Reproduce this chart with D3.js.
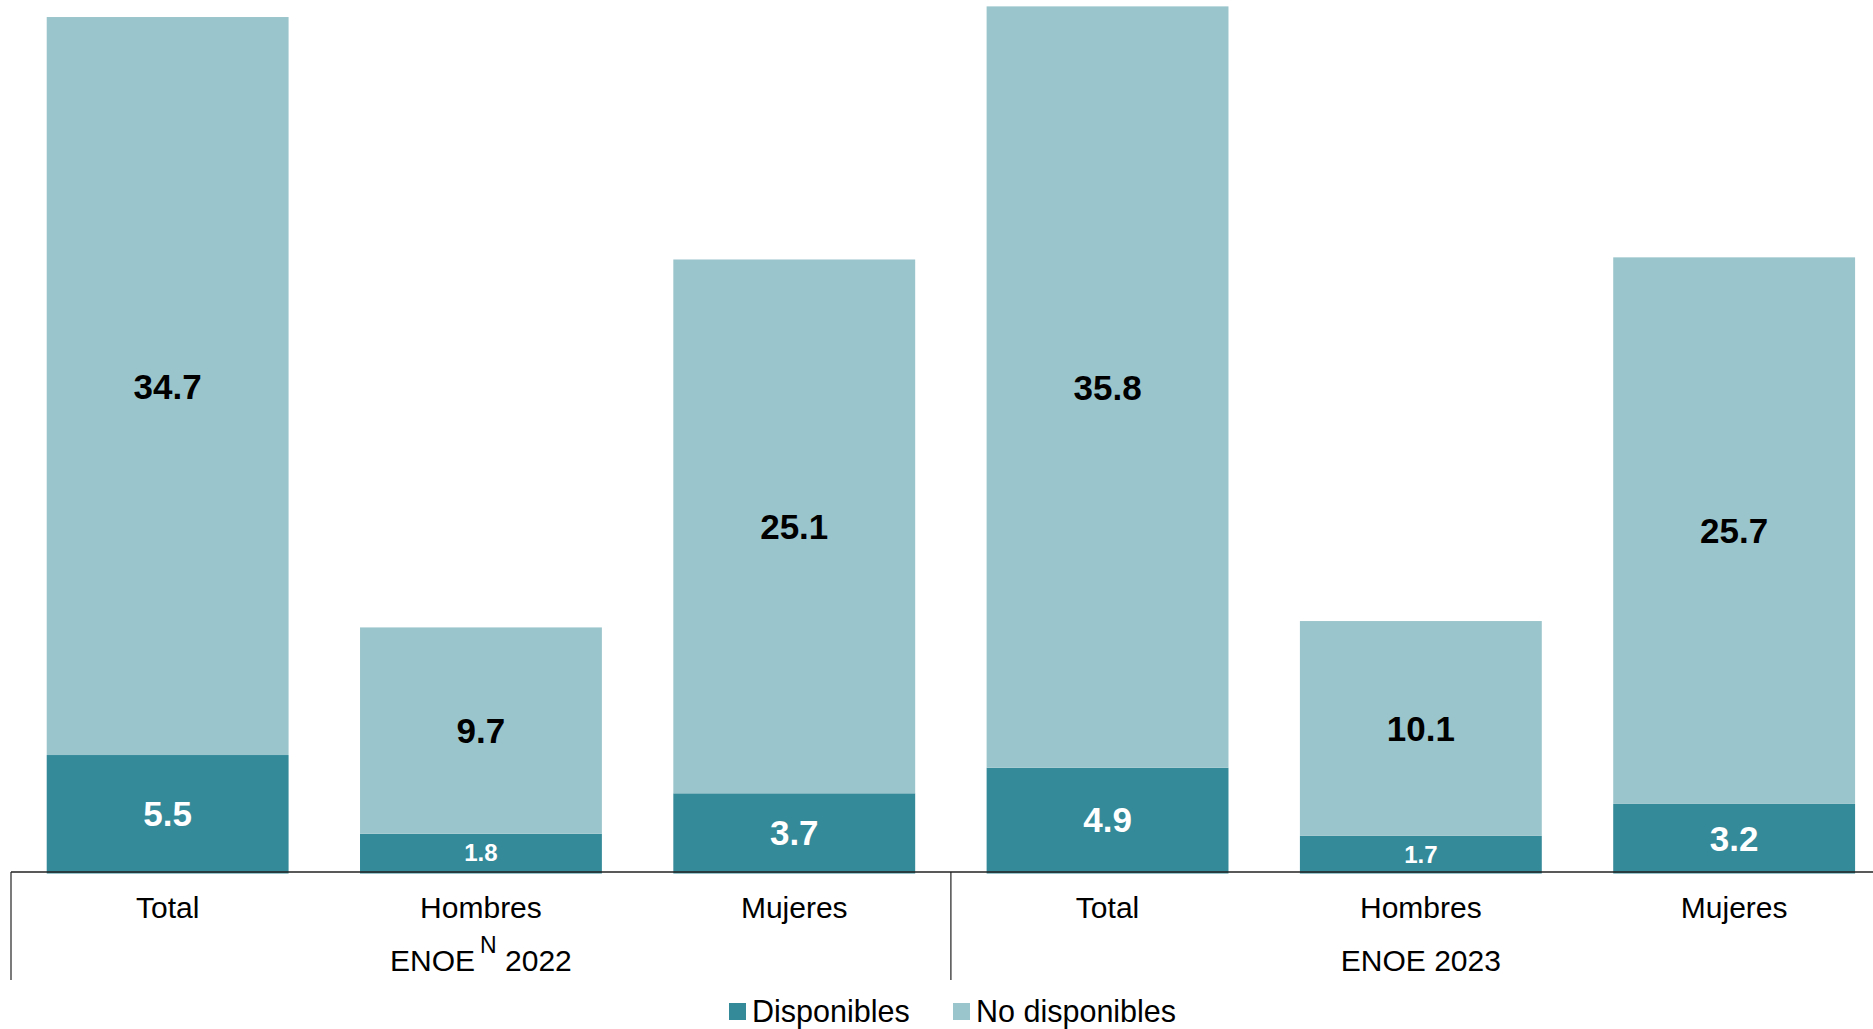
<!DOCTYPE html>
<html>
<head>
<meta charset="utf-8">
<script src="https://cdn.jsdelivr.net/npm/d3@7"></script>
<style>
  body { margin: 0; background: #fff; }
  svg { display: block; font-family: "Liberation Sans", Arial, sans-serif; }
</style>
</head>
<body>
<svg id="chart" width="1873" height="1029"></svg>
<script>
// data
const categories = ["Total", "Hombres", "Mujeres", "Total", "Hombres", "Mujeres"];
const groups = [
    { name: "ENOE", sup: "N", year: "2022", from: 0, to: 2 },
    { name: "ENOE", sup: "", year: "2023", from: 3, to: 5 }
];
const disponibles = [5.5, 1.8, 3.7, 4.9, 1.7, 3.2];
const noDisponibles = [34.7, 9.7, 25.1, 35.8, 10.1, 25.7];
const seriesNames = ["Disponibles", "No disponibles"];
const colors = ["#348a99", "#9bc5cc"];

const width = 1873, height = 1029;
const margin = { left: 11, top: 0 };
const baseY = 872;

const svg = d3.select("#chart");

// Scales
const x = d3.scaleBand()
    .domain(d3.range(categories.length))
    .range([margin.left, margin.left + 6 * 313.3])
    .paddingInner(0.228)
    .paddingOuter(0.114);

const y = d3.scaleLinear().domain([0, 41]).range([baseY, margin.top]);

// Stack the two series
const rows = categories.map((c, i) => ({ i: i, d: disponibles[i], n: noDisponibles[i] }));
const stack = d3.stack().keys(["d", "n"])(rows);

const layers = svg.append("g").selectAll("g")
    .data(stack)
    .enter().append("g")
    .attr("fill", (d, k) => colors[k]);

layers.selectAll("rect")
    .data(d => d)
    .enter().append("rect")
    .attr("x", d => x(d.data.i))
    .attr("width", x.bandwidth())
    .attr("y", d => y(d[1]))
    .attr("height", d => (d[0] === 0 ? y(d[0]) + 1.5 : y(d[0])) - y(d[1]));

// Value labels, centered in each segment
layers.selectAll("text")
    .data((d, k) => d.map(p => ({ p: p, k: k })))
    .enter().append("text")
    .attr("x", d => x(d.p.data.i) + x.bandwidth() / 2)
    .attr("y", d => (y(d.p[0]) + y(d.p[1])) / 2)
    .attr("dy", "0.36em")
    .attr("text-anchor", "middle")
    .attr("font-weight", "bold")
    .attr("font-size", d => (d.p[1] - d.p[0]) < 2 ? 24 : 35)
    .attr("fill", d => d.k === 0 ? "#fff" : "#000")
    .text(d => d3.format(".1f")(d.p[1] - d.p[0]));

// Category axis
const xAxis = d3.axisBottom(x)
    .tickSize(0)
    .tickPadding(25)
    .tickFormat(i => categories[i]);

const axisG = svg.append("g")
    .attr("transform", `translate(0,${baseY})`)
    .call(xAxis);
axisG.select(".domain").remove();
axisG.selectAll("text")
    .attr("font-family", "Liberation Sans, Arial, sans-serif")
    .attr("font-size", 30)
    .attr("fill", "#000");

// Axis line and group separators
svg.append("line")
    .attr("x1", margin.left).attr("x2", width)
    .attr("y1", baseY).attr("y2", baseY)
    .attr("stroke", "#222").attr("stroke-width", 1.5);

const step = x.step();
const sepX = [x.range()[0], x.range()[0] + 3 * step];
svg.selectAll(".sep")
    .data(sepX)
    .enter().append("line")
    .attr("class", "sep")
    .attr("x1", d => d).attr("x2", d => d)
    .attr("y1", baseY).attr("y2", 980)
    .attr("stroke", "#222").attr("stroke-width", 1.2);

// Group labels
const gl = svg.selectAll(".grp")
    .data(groups)
    .enter().append("text")
    .attr("class", "grp")
    .attr("x", g => (x(g.from) + x(g.to) + x.bandwidth()) / 2)
    .attr("y", 971)
    .attr("text-anchor", "middle")
    .attr("font-size", 30)
    .attr("fill", "#000");

gl.append("tspan").text(g => g.name);
gl.filter(g => g.sup).append("tspan")
    .attr("dx", 5).attr("dy", -18).attr("font-size", 23)
    .text(g => g.sup);
gl.append("tspan")
    .attr("dy", g => g.sup ? 18 : 0)
    .text(g => " " + g.year);

// Legend
const legendX = [729, 953];
const legend = svg.selectAll(".leg")
    .data(seriesNames)
    .enter().append("g")
    .attr("class", "leg")
    .attr("transform", (d, k) => `translate(${legendX[k]},1003)`);

legend.append("rect")
    .attr("width", 17).attr("height", 17)
    .attr("fill", (d, k) => colors[k]);

legend.append("text")
    .attr("x", 23)
    .attr("y", 19)
    .attr("font-size", 30.5)
    .attr("fill", "#000")
    .text(d => d);
</script>
</body>
</html>
